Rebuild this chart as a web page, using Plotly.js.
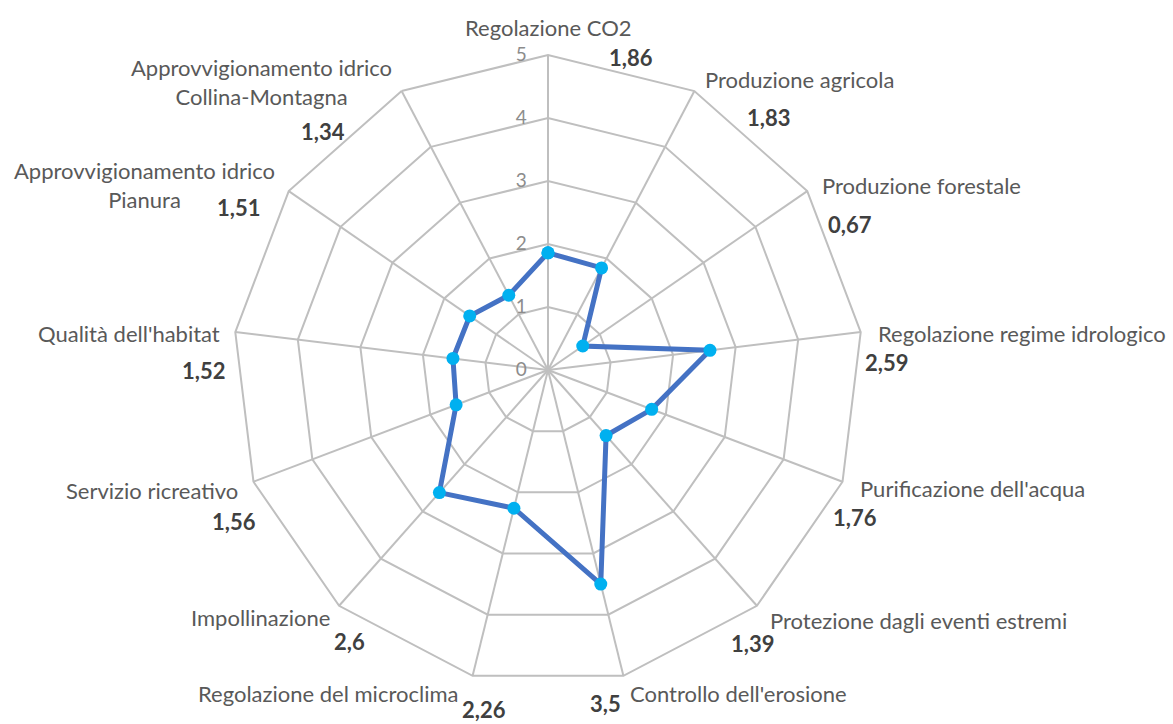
<!DOCTYPE html>
<html>
<head>
<meta charset="utf-8">
<script src="https://cdn.plot.ly/plotly-3.0.1.min.js"></script>
<style>html,body{margin:0;padding:0;background:#fff;}#chart{width:1173px;height:724px;}</style>
</head>
<body>
<div id="chart"></div>
<script>
const categories = [
  "Regolazione CO2",
  "Produzione agricola",
  "Produzione forestale",
  "Regolazione regime idrologico",
  "Purificazione dell'acqua",
  "Protezione dagli eventi estremi",
  "Controllo dell'erosione",
  "Regolazione del microclima",
  "Impollinazione",
  "Servizio ricreativo",
  "Qualità dell'habitat",
  "Approvvigionamento idrico Pianura",
  "Approvvigionamento idrico Collina-Montagna"
];
const categoryLabels = [
  "Regolazione CO2",
  "Produzione agricola",
  "Produzione forestale",
  "Regolazione regime idrologico",
  "Purificazione dell'acqua",
  "Protezione dagli eventi estremi",
  "Controllo dell'erosione",
  "Regolazione del microclima",
  "Impollinazione",
  "Servizio ricreativo",
  "Qualità dell'habitat",
  "Approvvigionamento idrico<br>Pianura",
  "Approvvigionamento idrico<br>Collina-Montagna"
];
const values = [1.86, 1.83, 0.67, 2.59, 1.76, 1.39, 3.5, 2.26, 2.6, 1.56, 1.52, 1.51, 1.34];
const valueLabels = ["1,86","1,83","0,67","2,59","1,76","1,39","3,5","2,26","2,6","1,56","1,52","1,51","1,34"];
const radialTicks = [0, 1, 2, 3, 4, 5];

// label placement (pixel x, y, anchor) — layout only
const W = 1173, H = 724;
const catPos = [
  [548, 27, 'center'], [703, 80, 'left'], [820, 185, 'left'], [876, 333, 'left'],
  [858, 488, 'left'], [768, 620, 'left'], [628, 693, 'left'], [460, 693, 'right'],
  [332, 617, 'right'], [240, 490, 'right'], [222, 333, 'right'], [144, 185, 'center'],
  [261, 82, 'center']
];
const valPos = [[631,58],[768,118],[850,225],[887,362],[855,517],[752,643],[605,703],[484,709],[349,641],[234,521],[203,370],[238,208],[323,132]];

const FONT = "Lato, 'Open Sans', sans-serif";
const annotations = [];
categoryLabels.forEach((t, i) => {
  annotations.push({text: t, xref: 'paper', yref: 'paper', x: catPos[i][0]/W, y: 1 - catPos[i][1]/H,
    xanchor: catPos[i][2], yanchor: 'middle', showarrow: false, align: 'center',
    font: {family: FONT, size: 22, color: '#595959'}});
});
valueLabels.forEach((t, i) => {
  annotations.push({text: '<b>' + t + '</b>', xref: 'paper', yref: 'paper', x: valPos[i][0]/W, y: 1 - valPos[i][1]/H,
    xanchor: 'center', yanchor: 'middle', showarrow: false,
    font: {family: FONT, size: 22, color: '#404040'}});
});

const cx = 548, cy = 370, R = 315;
const trace = {
  type: 'scatterpolar',
  r: values.concat([values[0]]),
  theta: categories.concat([categories[0]]),
  mode: 'lines+markers',
  line: {color: '#4472C4', width: 5},
  marker: {color: '#00B0F0', size: 13},
  hoverinfo: 'r+theta'
};

const layout = {
  width: W, height: H,
  margin: {l: 0, r: 0, t: 0, b: 0},
  paper_bgcolor: '#ffffff',
  showlegend: false,
  font: {family: FONT, color: '#595959'},
  polar: {
    domain: {x: [(cx - R)/W, (cx + R)/W], y: [1 - (cy + R)/H, 1 - (cy - R)/H]},
    gridshape: 'linear',
    bgcolor: '#ffffff',
    radialaxis: {
      range: [0, 5], tickvals: radialTicks, ticktext: radialTicks.map(String),
      angle: 90, tickangle: 90, side: 'counterclockwise',
      showline: false, ticks: 'outside', ticklen: 14, tickcolor: 'rgba(0,0,0,0)',
      gridcolor: '#BFBFBF', gridwidth: 2,
      tickfont: {family: FONT, size: 19, color: '#8c8c8c'}
    },
    angularaxis: {
      rotation: 90, direction: 'clockwise',
      showticklabels: false, ticks: '',
      linecolor: '#BFBFBF', linewidth: 2,
      gridcolor: '#BFBFBF', gridwidth: 2
    }
  },
  annotations: annotations
};

Plotly.newPlot('chart', [trace], layout, {displayModeBar: false, staticPlot: true});
</script>
</body>
</html>
